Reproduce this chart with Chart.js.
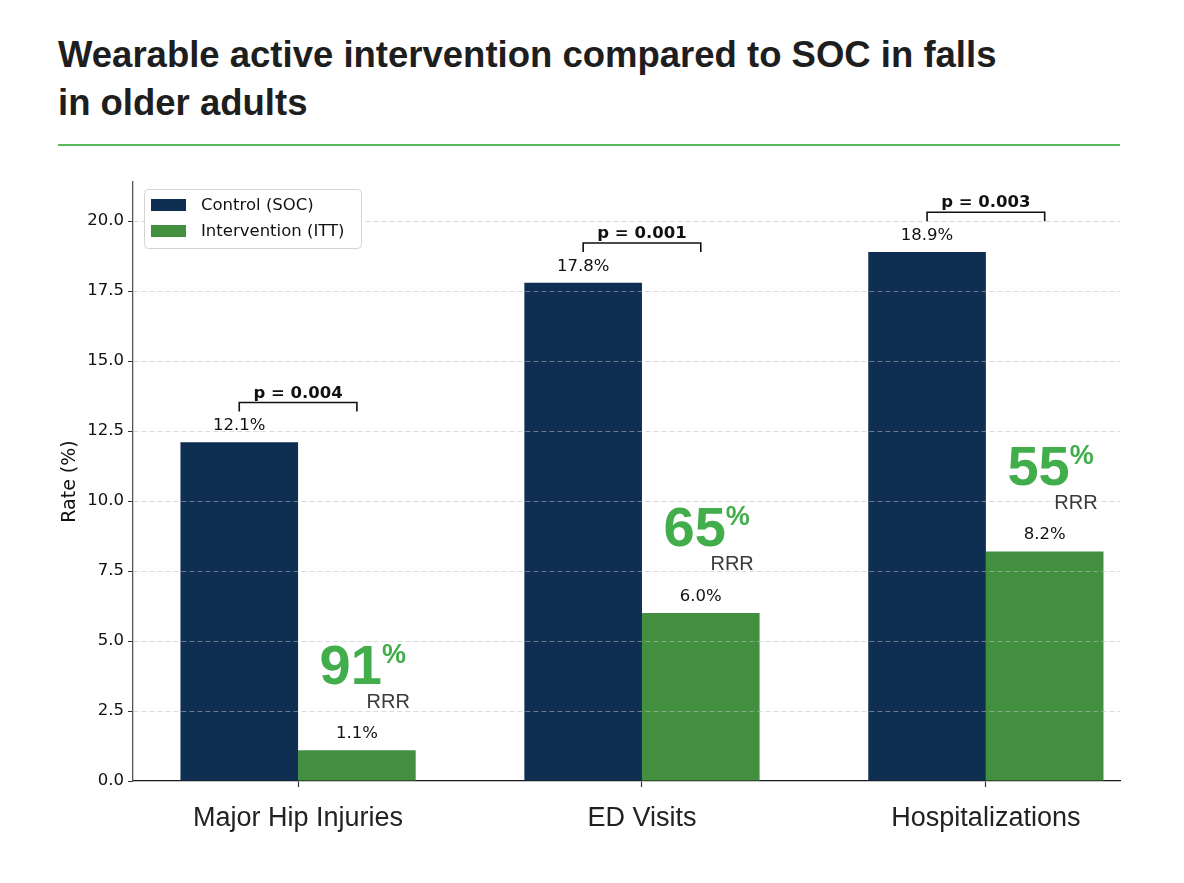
<!DOCTYPE html>
<html>
<head>
<meta charset="utf-8">
<script src="https://cdn.jsdelivr.net/npm/chart.js@4.4.1/dist/chart.umd.min.js"></script>
<style>
  body { margin: 0; background: #fff; }
  #wrap { position: relative; width: 1184px; height: 883px; }
  #title {
    position: absolute; left: 58px; top: 31px; margin: 0;
    font: bold 36.5px "Liberation Sans", Arial, sans-serif; line-height: 48px;
    color: #1e1e1e;
  }
  #rule { position: absolute; left: 58px; top: 144px; width: 1062px; height: 2px; background: #5cb85c; }
  canvas { position: absolute; left: 0; top: 0; }
</style>
</head>
<body>
<div id="wrap">
  <h1 id="title">Wearable active intervention compared to SOC in falls<br>in older adults</h1>
  <div id="rule"></div>
  <canvas id="chart" width="1184" height="883"></canvas>
</div>
<script>
// data
const categories = ['Major Hip Injuries', 'ED Visits', 'Hospitalizations'];
const controlVals = [12.1, 17.8, 18.9];
const interventionVals = [1.1, 6.0, 8.2];
const pValues = ['p = 0.004', 'p = 0.001', 'p = 0.003'];
const rrrVals = ['91', '65', '55'];
const yTicks = [0, 2.5, 5, 7.5, 10, 12.5, 15, 17.5, 20];

const NAVY = '#0e2e52';
const GREEN = '#418f3f';
const RRR_GREEN = '#42ad4b';
const MPL = '"DejaVu Sans", sans-serif';
const SANS = '"Liberation Sans", Arial, sans-serif';

// value labels, p brackets, RRR callouts and in-plot legend
const annotate = {
    id: 'annotate',
    afterDraw(chart) {
        const ctx = chart.ctx;
        const y = chart.scales.y;
        const ctrl = chart.getDatasetMeta(0).data;
        const intv = chart.getDatasetMeta(1).data;
        ctx.save();

        // value labels
        ctx.fillStyle = '#111';
        ctx.font = '16.5px ' + MPL;
        ctx.textAlign = 'center';
        ctx.textBaseline = 'alphabetic';
        [ctrl, intv].forEach((bars, d) => {
            const vals = d === 0 ? controlVals : interventionVals;
            bars.forEach((b, i) => ctx.fillText(vals[i].toFixed(1) + '%', b.x, b.y - 12));
        });

        // significance brackets
        ctrl.forEach((b, i) => {
            const top = y.getPixelForValue(controlVals[i] + 1.42);
            const leg = y.getPixelForValue(controlVals[i] + 1.1);
            const x1 = b.x, x2 = intv[i].x;
            ctx.strokeStyle = '#111';
            ctx.lineWidth = 1.6;
            ctx.beginPath();
            ctx.moveTo(x1, leg); ctx.lineTo(x1, top); ctx.lineTo(x2, top); ctx.lineTo(x2, leg);
            ctx.stroke();
            ctx.font = 'bold 16.5px ' + MPL;
            ctx.fillText(pValues[i], (x1 + x2) / 2, top - 5);
        });

        // RRR callouts
        intv.forEach((b, i) => {
            const base = y.getPixelForValue(interventionVals[i] + 2.38);
            ctx.fillStyle = RRR_GREEN;
            ctx.font = 'bold 56px ' + SANS;
            ctx.textAlign = 'right';
            ctx.fillText(rrrVals[i], b.x + 25, base);
            ctx.font = 'bold 27px ' + SANS;
            ctx.textAlign = 'left';
            ctx.fillText('%', b.x + 25, base - 21);
            ctx.fillStyle = '#3a3a3a';
            ctx.font = '20px ' + SANS;
            ctx.textAlign = 'right';
            ctx.fillText('RRR', b.x + 53, base + 24);
        });

        // legend box (upper left of plot)
        const lx = chart.chartArea.left + 11, ly = chart.chartArea.top + 7;
        ctx.fillStyle = 'rgba(255,255,255,0.85)';
        ctx.strokeStyle = '#d4d4d4';
        ctx.lineWidth = 1;
        ctx.beginPath();
        ctx.roundRect(lx + 0.5, ly + 0.5, 217, 59, 4);
        ctx.fill(); ctx.stroke();
        ctx.font = '16.5px ' + MPL;
        ctx.textAlign = 'left';
        ctx.textBaseline = 'middle';
        chart.data.datasets.forEach((ds, i) => {
            const ry = ly + 16 + i * 26;
            ctx.fillStyle = ds.backgroundColor;
            ctx.fillRect(lx + 7, ry - 6, 35, 12);
            ctx.fillStyle = '#111';
            ctx.fillText(ds.label, lx + 57, ry + 1);
        });
        ctx.restore();
    }
};

new Chart(document.getElementById('chart'), {
    type: 'bar',
    data: {
        datasets: [
            { label: 'Control (SOC)', data: controlVals.map((v, i) => ({ x: i, y: v })), backgroundColor: NAVY },
            { label: 'Intervention (ITT)', data: interventionVals.map((v, i) => ({ x: i, y: v })), backgroundColor: GREEN }
        ]
    },
    options: {
        responsive: false,
        animation: false,
        devicePixelRatio: 1,
        layout: { padding: { top: 182, right: 64, bottom: 0, left: 0 } },
        datasets: { bar: { categoryPercentage: 0.684, barPercentage: 1 } },
        plugins: { legend: { display: false }, tooltip: { enabled: false } },
        scales: {
            x: {
                type: 'linear',
                offset: false,
                min: -0.48, max: 2.39,
                afterBuildTicks: s => { s.ticks = categories.map((c, i) => ({ value: i })); },
                afterFit: s => { s.height = 102; },
                grid: { offset: false, drawOnChartArea: false, tickLength: 6, tickColor: '#333', tickWidth: 1.2 },
                border: { color: '#1a1a1a', width: 1.3 },
                ticks: {
                    callback: v => categories[v],
                    font: { family: SANS, size: 27 },
                    color: '#222', padding: 15, maxRotation: 0, autoSkip: false
                }
            },
            y: {
                min: 0, max: 21.4,
                afterBuildTicks: s => { s.ticks = yTicks.map(v => ({ value: v })); },
                afterFit: s => { s.width = 133; },
                grid: { color: 'rgba(190,190,190,0.55)', lineWidth: 1, z: 1, tickLength: 5, tickColor: '#333', tickBorderDash: [] },
                border: { color: '#555', width: 1.3, dash: [5, 3], z: 1 },
                ticks: {
                    callback: v => v.toFixed(1),
                    font: { family: MPL, size: 16.5 },
                    color: '#111', padding: 4
                },
                title: {
                    display: true, text: 'Rate (%)',
                    font: { family: MPL, size: 19 },
                    color: '#111', padding: { top: 59, bottom: 0 }
                }
            }
        }
    },
    plugins: [annotate]
});
</script>
</body>
</html>
